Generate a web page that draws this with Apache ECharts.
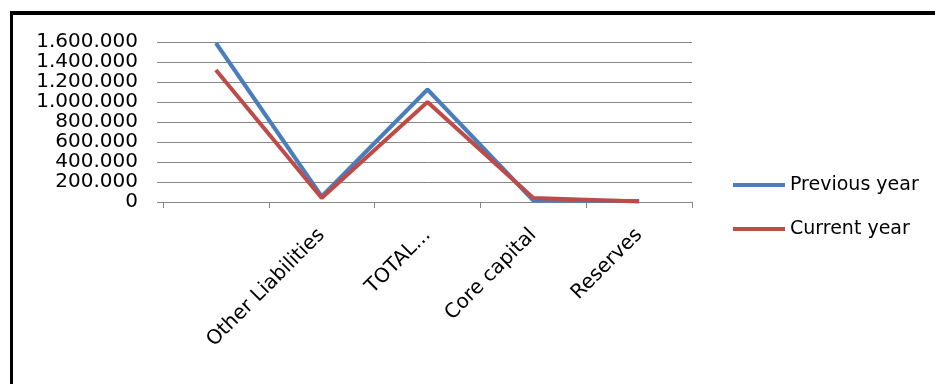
<!DOCTYPE html>
<html>
<head>
<meta charset="utf-8">
<title>Balance sheet items</title>
<script src="https://cdn.jsdelivr.net/npm/echarts@6/dist/echarts.min.js"></script>
<style>
  html, body { margin: 0; padding: 0; background: #ffffff; }
  #chart { width: 935px; height: 384px; }
</style>
</head>
<body>
<div id="chart"></div>
<script>
// Balance sheet items, previous vs. current year
const categories = ['', 'Other Liabilities', 'TOTAL...', 'Core capital', 'Reserves'];
const previousYear = [1590000, 55000, 1125000, 15000, 10000];
const currentYear = [1320000, 40000, 1000000, 40000, 5000];
const yTicks = { min: 0, max: 1600000, interval: 200000 };

// Thousands separated with dots, e.g. 1.600.000
function formatThousands(v) {
  return String(v).replace(/\B(?=(\d{3})+(?!\d))/g, '.');
}

const FONT = 'DejaVu Sans';
const chart = echarts.init(document.getElementById('chart'), null, { renderer: 'canvas' });

chart.setOption({
  backgroundColor: '#ffffff',
  animation: false,
  graphic: [
    { type: 'rect', shape: { x: 10, y: 11, width: 925, height: 4 }, style: { fill: '#000000' } },
    { type: 'rect', shape: { x: 10, y: 11, width: 3, height: 373 }, style: { fill: '#000000' } }
  ],
  grid: { left: 163, right: 243, top: 42, bottom: 182, containLabel: false },
  legend: {
    orient: 'vertical',
    left: 728,
    top: 170,
    icon: 'rect',
    itemWidth: 52,
    itemHeight: 4,
    itemGap: 24,
    textStyle: { fontFamily: FONT, fontSize: 19, color: '#000000', lineHeight: 20 },
    data: ['Previous year', 'Current year']
  },
  xAxis: {
    type: 'category',
    data: categories,
    boundaryGap: true,
    axisLine: { show: true, lineStyle: { color: '#868686', width: 1 } },
    axisTick: { show: true, length: 6, lineStyle: { color: '#868686' } },
    axisLabel: {
      interval: 0,
      rotate: 45,
      margin: 30,
      fontFamily: FONT,
      fontSize: 20,
      color: '#000000'
    },
    splitLine: { show: false }
  },
  yAxis: {
    type: 'value',
    min: yTicks.min,
    max: yTicks.max,
    interval: yTicks.interval,
    axisLine: { show: false },
    axisTick: { show: true, length: 6, lineStyle: { color: '#868686' } },
    axisLabel: {
      margin: 25,
      fontFamily: FONT,
      fontSize: 20,
      color: '#000000',
      formatter: formatThousands
    },
    splitLine: { show: true, lineStyle: { color: '#868686', width: 1 } }
  },
  series: [
    {
      name: 'Previous year',
      type: 'line',
      data: previousYear,
      symbol: 'none',
      lineStyle: { color: '#4a7ebb', width: 4 },
      itemStyle: { color: '#4a7ebb' }
    },
    {
      name: 'Current year',
      type: 'line',
      data: currentYear,
      symbol: 'none',
      lineStyle: { color: '#be4b48', width: 4 },
      itemStyle: { color: '#be4b48' }
    }
  ]
});
</script>
</body>
</html>
